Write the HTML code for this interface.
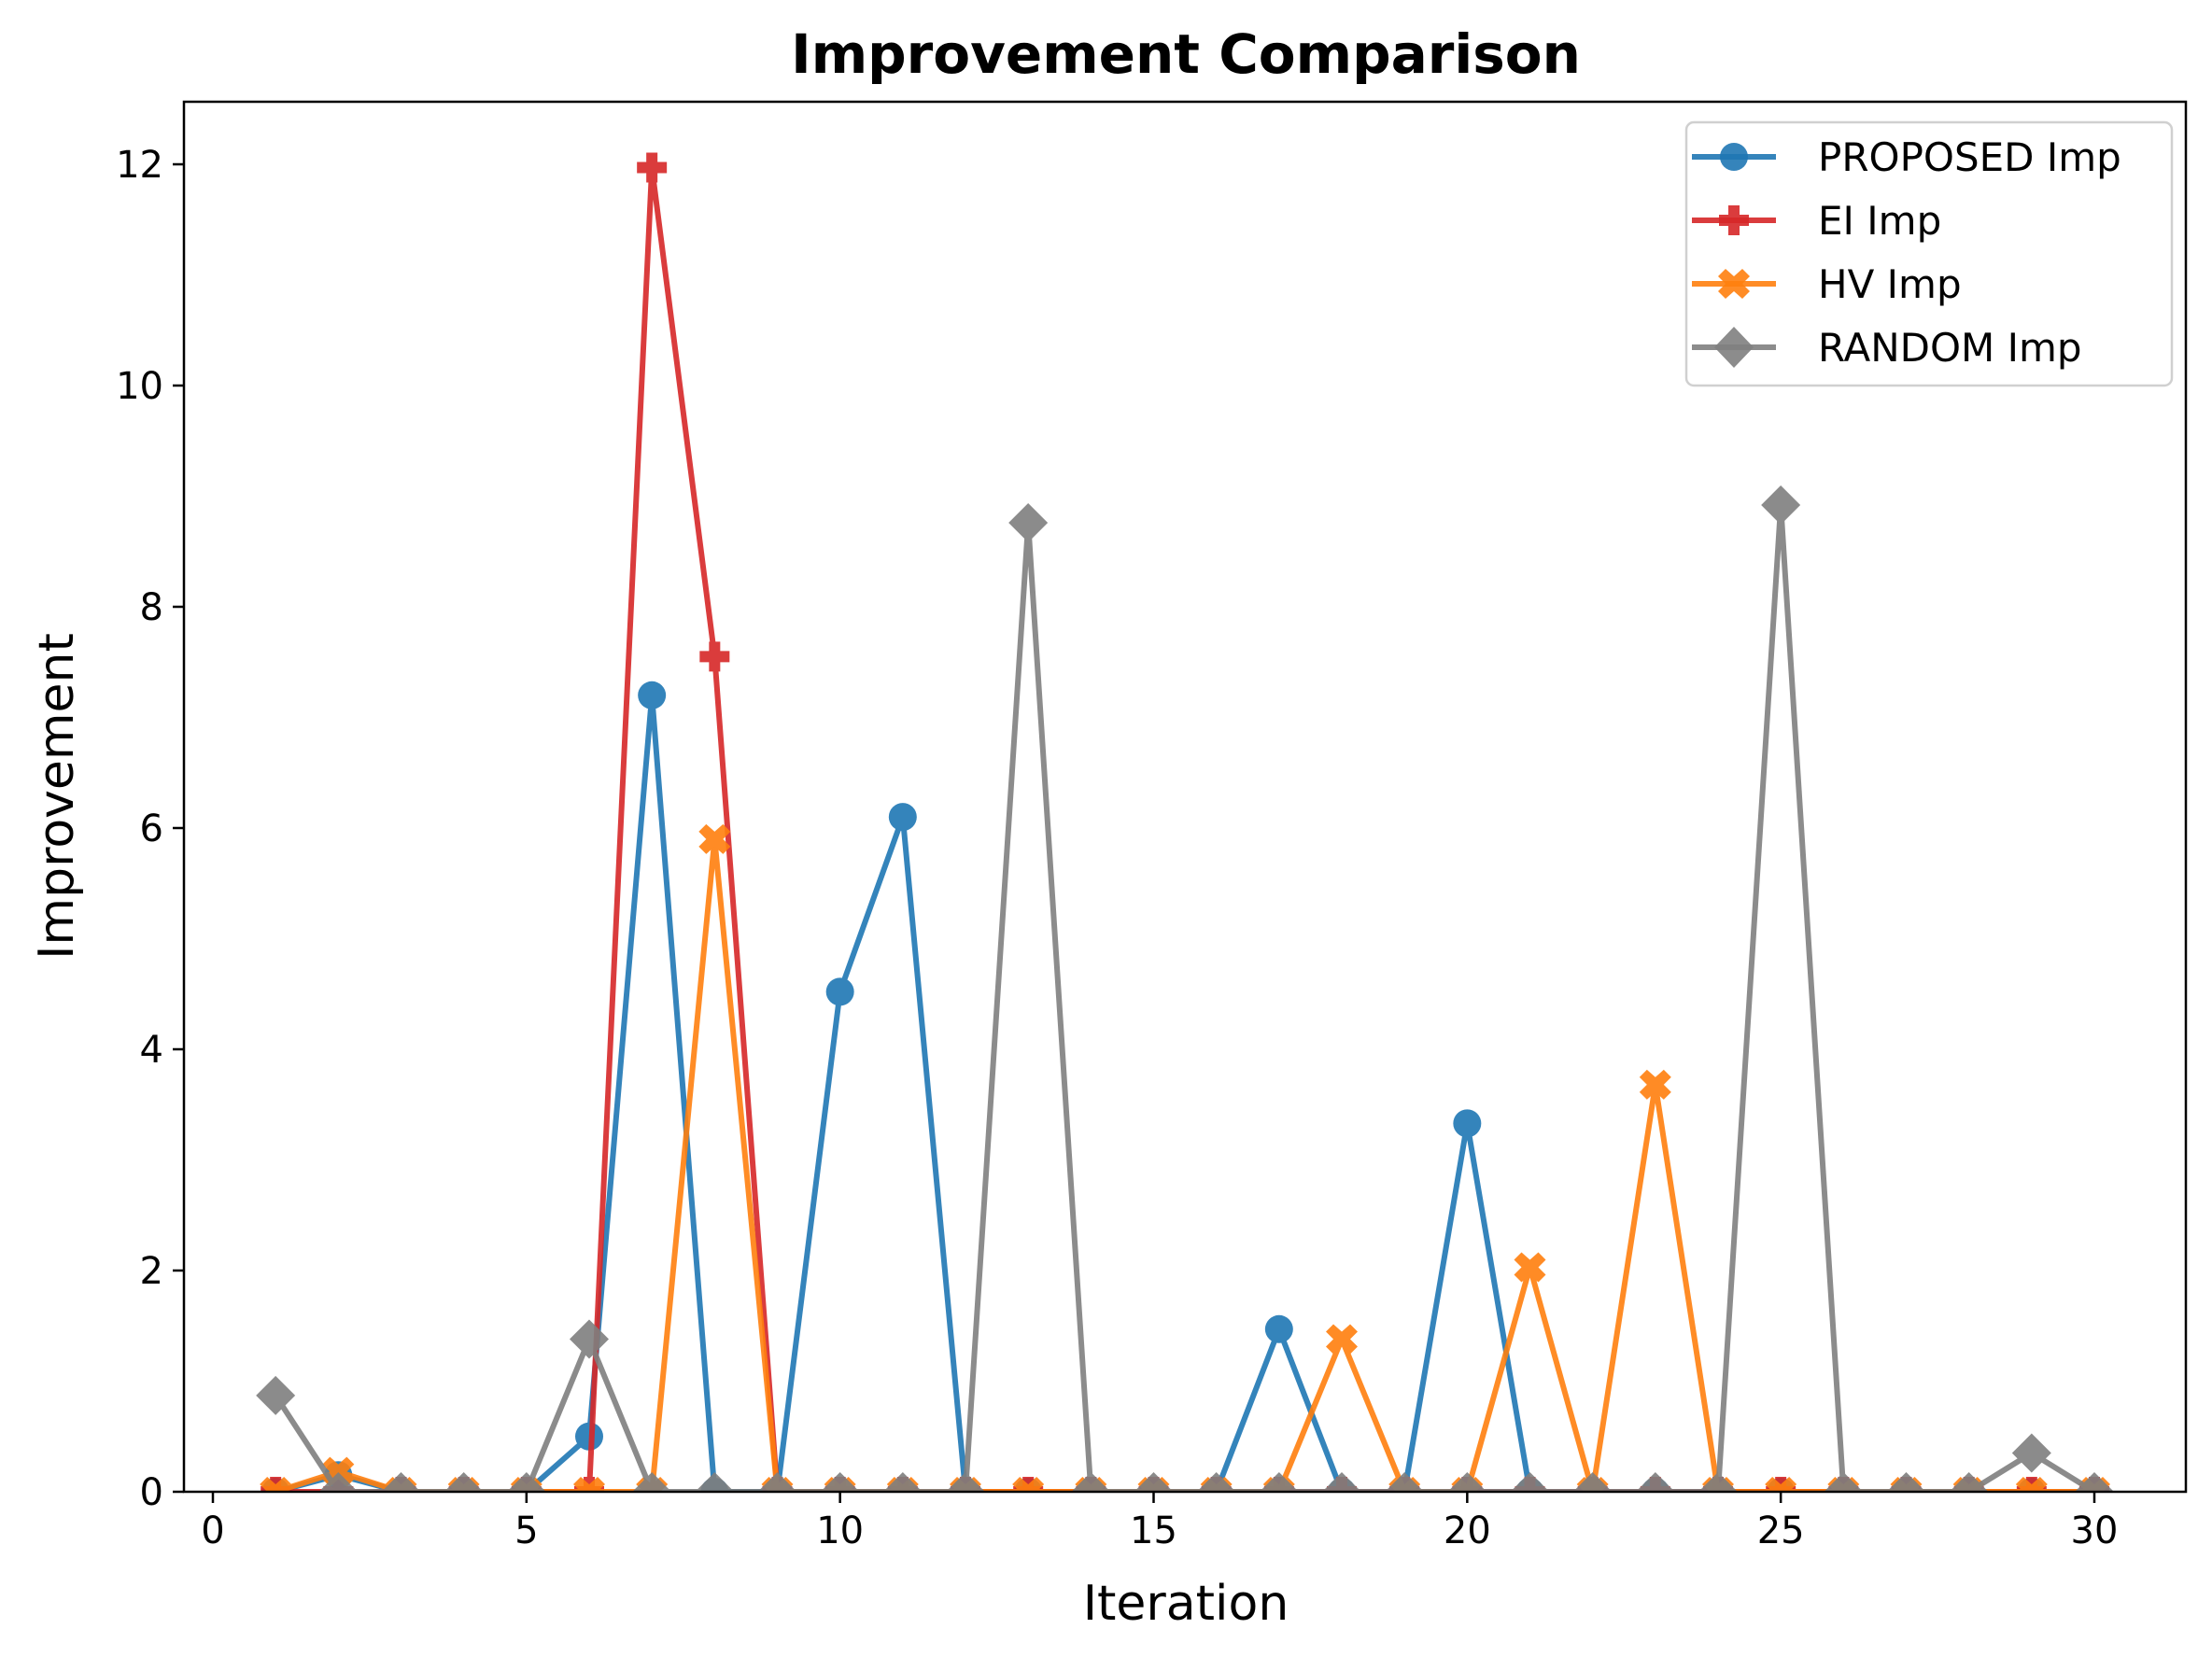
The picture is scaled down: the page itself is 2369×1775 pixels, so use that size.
<!DOCTYPE html>
<html><head><meta charset="utf-8"><style>
body{margin:0;background:#fff}
svg text{font-family:"DejaVu Sans","Liberation Sans",sans-serif}
</style></head><body>
<svg id="chart" width="2369" height="1770" viewBox="0 0 2369 1770" xmlns="http://www.w3.org/2000/svg">
<rect width="2369" height="1770" fill="#fff"/>
<text x="1270" y="78" text-anchor="middle" font-size="58" font-weight="bold">Improvement Comparison</text>
<g id="plot"></g>
<rect x="197" y="109" width="2144" height="1489" fill="none" stroke="#000" stroke-width="2.5"/>
<text x="1270" y="1735" text-anchor="middle" font-size="52">Iteration</text>
<text transform="translate(78,853) rotate(-90)" text-anchor="middle" font-size="52">Improvement</text>
<g>
<rect x="1806" y="131" width="520" height="282" rx="8" fill="#fff" fill-opacity="0.8" stroke="#d0d0d0" stroke-width="2.5"/>
<g>
<line x1="1812" y1="168" x2="1902" y2="168" stroke="#1f77b4" stroke-width="6" stroke-opacity="0.9"/>
<circle cx="1857" cy="168" r="15" fill="#1f77b4" opacity="0.9"/>
<text x="1947" y="183" font-size="42">PROPOSED Imp</text></g>
<g>
<line x1="1812" y1="236" x2="1902" y2="236" stroke="#d62728" stroke-width="6" stroke-opacity="0.9"/>
<path d="M1851 220h12v10h10v12h-10v10h-12v-10h-10v-12h10z" fill="#d62728" opacity="0.9"/>
<text x="1947" y="251" font-size="42">EI Imp</text></g>
<g>
<line x1="1812" y1="304" x2="1902" y2="304" stroke="#ff7f0e" stroke-width="6" stroke-opacity="0.9"/>
<path d="M1848 288l9 8 9-8 8 8-8 8 8 8-8 8-9-8-9 8-8-8 8-8-8-8z" fill="#ff7f0e" opacity="0.9"/>
<text x="1947" y="319" font-size="42">HV Imp</text></g>
<g>
<line x1="1812" y1="372" x2="1902" y2="372" stroke="#7f7f7f" stroke-width="6" stroke-opacity="0.9"/>
<path d="M1857 350l21 22-21 22-21-22z" fill="#7f7f7f" opacity="0.9"/>
<text x="1947" y="387" font-size="42">RANDOM Imp</text></g>
</g>
</svg>
<script>
const iterations = [1,2,3,4,5,6,7,8,9,10,11,12,13,14,15,16,17,18,19,20,21,22,23,24,25,26,27,28,29,30];
const proposedImp = [0,0.15,0,0,0,0.5,7.2,0,0,4.52,6.1,0,0,0,0,0,1.47,0,0,3.33,0,0,0,0,0,0,0,0,0,0];
const eiImp = [0,0,0,0,0,0,11.97,7.55,0,0,0,0,0,0,0,0,0,0,0,0,0,0,0,0,0,0,0,0,0,0];
const hvImp = [0,0.18,0,0,0,0,0,5.9,0,0,0,0,0,0,0,0,0,1.38,0,0,2.03,0,3.68,0,0,0,0,0,0,0];
const randomImp = [0.87,0,0,0,0,1.38,0,0,0,0,0,0,8.76,0,0,0,0,0,0,0,0,0,0,0,8.92,0,0,0,0.35,0];
const xTicks = [0,5,10,15,20,25,30];
const yTicks = [0,2,4,6,8,10,12];

const NS='http://www.w3.org/2000/svg';
const X0=197,X1=2341,Y0=109,Y1=1598;
function xs(v){return 228+v*(2243-228)/30;}
function ys(v){return 1598-v*(1598-176)/12;}
const plot=document.getElementById('plot');
function mk(tag,attrs,parent){const e=document.createElementNS(NS,tag);for(const k in attrs)e.setAttribute(k,attrs[k]);(parent||plot).appendChild(e);return e;}

xTicks.forEach(t=>{
  const g=mk('g',{});
  
  
  mk('line',{x1:xs(t),x2:xs(t),y1:Y1,y2:Y1+12,stroke:'#000','stroke-width':2.5},g);
  const tx=mk('text',{x:xs(t),y:Y1+55,'text-anchor':'middle','font-size':40},g);tx.textContent=t;
});
yTicks.forEach(t=>{
  const g=mk('g',{});
  
  
  mk('line',{x1:X0-12,x2:X0,y1:ys(t),y2:ys(t),stroke:'#000','stroke-width':2.5},g);
  const tx=mk('text',{x:X0-22,y:ys(t)+14,'text-anchor':'end','font-size':40},g);tx.textContent=t;
});

function marker(type,cx,cy,color,g){
  if(type==='circle') return mk('circle',{cx:cx,cy:cy,r:15,fill:color},g);
  if(type==='plus') return mk('path',{d:`M${cx-6} ${cy-16}h12v10h10v12h-10v10h-12v-10h-10v-12h10z`,fill:color},g);
  if(type==='x') return mk('path',{d:`M${cx-9} ${cy-16}l9 8 9-8 8 8-8 8 8 8-8 8-9-8-9 8-8-8 8-8-8-8z`,fill:color},g);
  return mk('path',{d:`M${cx} ${cy-21}l21 21-21 21-21-21z`,fill:color},g);
}
const series=[
  ['proposed',proposedImp,'#1f77b4','circle'],
  ['ei',eiImp,'#d62728','plus'],
  ['hv',hvImp,'#ff7f0e','x'],
  ['random',randomImp,'#7f7f7f','diamond']
];
const clipId='clipPlot';
const cp=mk('clipPath',{id:clipId});mk('rect',{x:X0,y:Y0,width:X1-X0,height:Y1-Y0},cp);
series.forEach(([name,vals,color,m])=>{
  const g=mk('g',{opacity:0.9,'clip-path':'url(#'+clipId+')'});
  
  
  const pts=iterations.map((it,i)=>xs(it)+','+ys(vals[i])).join(' ');
  const pl=mk('polyline',{points:pts,fill:'none',stroke:color,'stroke-width':6,'stroke-linejoin':'round'},g);
  
  
  iterations.forEach((it,i)=>{
    const p=marker(m,xs(it),ys(vals[i]),color,g);
    
    
  });
});
</script>
</body></html>
